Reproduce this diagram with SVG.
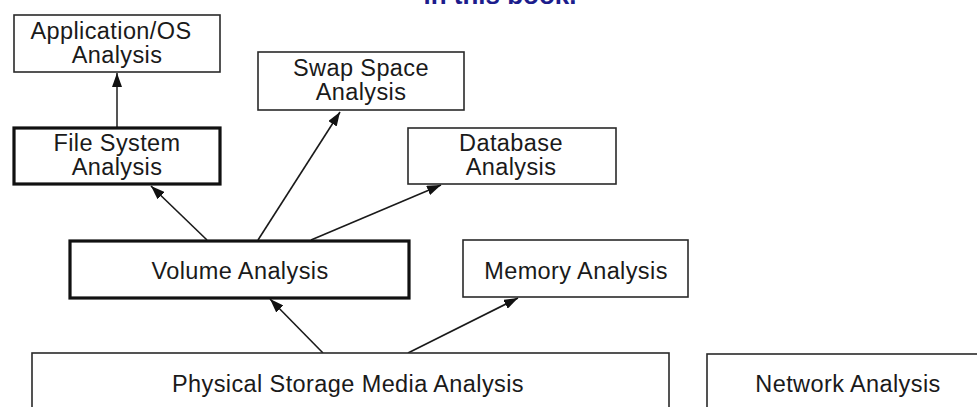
<svg xmlns="http://www.w3.org/2000/svg" width="977" height="407" viewBox="0 0 977 407">
  <style>
    .box { fill: #ffffff; stroke: #2a2a2a; stroke-width: 1.6; }
    .thick { fill: #ffffff; stroke: #111111; stroke-width: 3.2; }
    .lbl { font-family: "Liberation Sans", Arial, Helvetica, sans-serif; font-size: 23.5px; letter-spacing: 0.4px; fill: #1a1a1a; text-anchor: middle; }
    .edge { stroke: #1a1a1a; stroke-width: 1.6; fill: none; marker-end: url(#arrow); }
    .caption { font-family: "Liberation Sans", Arial, Helvetica, sans-serif; font-size: 26px; font-weight: bold; fill: #1c1c8c; text-anchor: middle; }
  </style>
  <defs>
    <marker id="arrow" viewBox="0 0 14 10" refX="14" refY="5" markerWidth="14" markerHeight="10" markerUnits="userSpaceOnUse" orient="auto">
      <path d="M0,0 L14,5 L0,10 Z" fill="#111111"/>
    </marker>
  </defs>

  <rect width="977" height="407" fill="#ffffff"/>

  <!-- caption line, mostly above the frame -->
  <text class="caption" x="500" y="3.5">in this book.</text>

  <g id="connectors">
    <line class="edge" x1="117" y1="127" x2="117" y2="73" style="stroke:#555555;stroke-width:2"/>
    <line class="edge" x1="207" y1="240" x2="151" y2="186"/>
    <line class="edge" x1="258" y1="240" x2="340" y2="112"/>
    <line class="edge" x1="311" y1="240" x2="441" y2="185"/>
    <line class="edge" x1="323" y1="353" x2="270" y2="299"/>
    <line class="edge" x1="408" y1="353" x2="518" y2="298"/>
  </g>

  <g id="app-os">
    <rect class="box" x="14" y="15" width="206" height="57"/>
    <text class="lbl" x="111" y="39">Application/OS</text>
    <text class="lbl" x="117" y="63">Analysis</text>
  </g>

  <g id="file-system">
    <rect class="thick" x="14" y="128" width="206" height="56"/>
    <text class="lbl" x="117" y="151">File System</text>
    <text class="lbl" x="117" y="175">Analysis</text>
  </g>

  <g id="swap-space">
    <rect class="box" x="258" y="52" width="206" height="58"/>
    <text class="lbl" x="361" y="76">Swap Space</text>
    <text class="lbl" x="361" y="100">Analysis</text>
  </g>

  <g id="database">
    <rect class="box" x="408" y="128" width="208" height="56"/>
    <text class="lbl" x="511" y="151">Database</text>
    <text class="lbl" x="511" y="175">Analysis</text>
  </g>

  <g id="volume">
    <rect class="thick" x="70" y="241" width="339" height="57"/>
    <text class="lbl" x="240" y="279">Volume Analysis</text>
  </g>

  <g id="memory">
    <rect class="box" x="463" y="240" width="225" height="57"/>
    <text class="lbl" x="576" y="279">Memory Analysis</text>
  </g>

  <g id="physical">
    <rect class="box" x="32" y="353" width="637" height="70"/>
    <text class="lbl" x="348" y="392">Physical Storage Media Analysis</text>
  </g>

  <g id="network">
    <rect class="box" x="707" y="354" width="290" height="70"/>
    <text class="lbl" x="848" y="392">Network Analysis</text>
  </g>
</svg>
